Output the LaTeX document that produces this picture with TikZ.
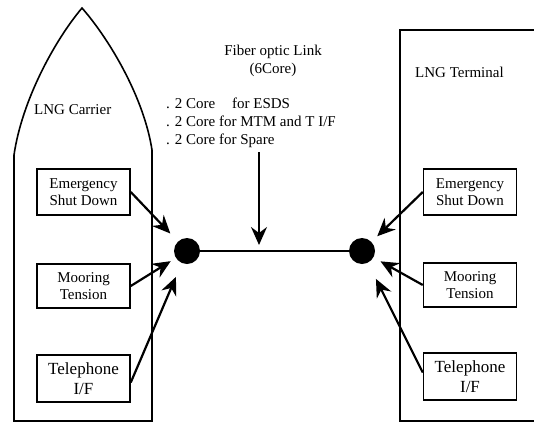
\documentclass[tikz,border=0pt]{standalone}
\usepackage{fontspec}
\setmainfont{Liberation Serif}
\usetikzlibrary{arrows.meta}
\tikzset{
  unitbox/.style={draw, line width=1.5pt, minimum width=93pt, minimum height=46pt,
    inner sep=0pt, align=center, font=\fontsize{15}{17}\selectfont},
  phonebox/.style={unitbox, font=\fontsize{17}{20}\selectfont},
  joint/.style={circle, fill, minimum size=26pt, inner sep=0pt},
  link/.style={line width=2.2pt, -{Stealth[length=18pt,width=16pt,inset=6pt]}},
  hull/.style={line width=1.6pt},
  plaintext/.style={inner sep=0pt, font=\fontsize{15}{18}\selectfont}
}
\newcommand{\myCoreList}{%
. 2 Core\hspace{13pt} for ESDS\\
. 2 Core for MTM and T I/F\\
. 2 Core for Spare}

\begin{document}
\begin{tikzpicture}[x=1pt, y=-1pt]
			\useasboundingbox (0,0) rectangle (534,423);
			% carrier hull and terminal outline
			\draw[hull] (14,421) -- (14,155) .. controls (22,100) and (55,40) .. (82,8)
			  .. controls (110,40) and (144,98) .. (152,150) -- (152,421) -- cycle;
			\draw[hull] (540,30) -- (400,30) -- (400,421) -- (540,421);
			% texts
			\node[plaintext, anchor=west] (carrier) at (34,110) {LNG Carrier};
			\node[plaintext, anchor=west] (terminal) at (415,72) {LNG Terminal};
			\node[plaintext, align=center] (fiber) at (273,61) {Fiber optic Link\\(6Core)};
			\node[plaintext, align=left, anchor=west] (cores) at (166,123) {\myCoreList};
			% units on carrier
			\node[unitbox] (esdL) at (83.5,192) {Emergency\\Shut Down};
			\node[unitbox, minimum height=44pt] (mtmL) at (83.5,286) {Mooring\\Tension};
			\node[phonebox, minimum height=47pt] (telL) at (83.5,378.5) {Telephone\\I/F};
			% units on terminal
			\node[unitbox] (esdR) at (470,192) {Emergency\\Shut Down};
			\node[unitbox, minimum height=44pt] (mtmR) at (470,285) {Mooring\\Tension};
			\node[phonebox, minimum height=47pt] (telR) at (470,376.5) {Telephone\\I/F};
			% connectors
			\node[joint] (dotL) at (187,251) {};
			\node[joint] (dotR) at (362,251) {};
			\draw[hull] (dotL) -- (dotR);
			\coordinate (fibTop) at (259,152);
			\coordinate (fibTip) at (259,245);
			\draw[link] (fibTop) -- (fibTip);
			\draw[link, shorten >=11pt] (esdL.east) -- (dotL);
			\draw[link, shorten >=6pt] (mtmL.east) -- (dotL);
			\draw[link, shorten >=15pt] ([yshift=-4pt]telL.east) -- (dotL);
			\draw[link, shorten >=8pt] (esdR.west) -- (dotR);
			\draw[link, shorten >=8pt] (mtmR.west) -- (dotR);
			\draw[link, shorten >=18pt] ([yshift=4pt]telR.west) -- (dotR);
		\end{tikzpicture}
\end{document}
